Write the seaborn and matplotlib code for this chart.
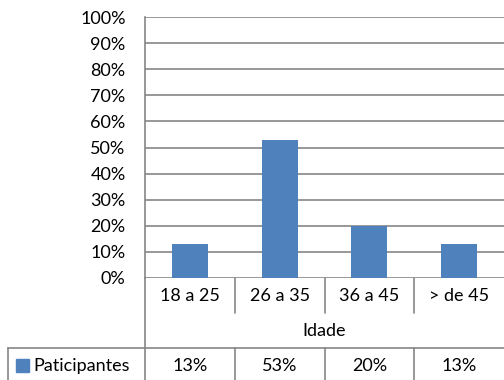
import matplotlib
matplotlib.use("Agg")
import matplotlib.pyplot as plt
import seaborn as sns
import pandas as pd
from matplotlib.lines import Line2D
from matplotlib.patches import Rectangle

categories = ["18 a 25", "26 a 35", "36 a 45", "> de 45"]
values = [13, 53, 20, 13]
value_labels = ["13%", "53%", "20%", "13%"]
series_name = "Paticipantes"
axis_title = "Idade"
yticks = list(range(0, 101, 10))

sns.set_theme(style="white")
plt.rcParams["font.family"] = ["Lato", "DejaVu Sans"]
FS = 13

W, H = 504, 380
fig = plt.figure(figsize=(W / 100, H / 100), dpi=100)

def fx(px):
    return px / W

def fy(py):
    return 1 - py / H

left, right, top, bottom = 145, 504, 17, 278
ax = fig.add_axes([fx(left), fy(bottom), fx(right) - fx(left), fy(top) - fy(bottom)])

df = pd.DataFrame({"Idade": categories, "v": values})
sns.barplot(data=df, x="Idade", y="v", color="#4F81BD", width=0.4, saturation=1,
            ax=ax, edgecolor="none")
ax.set_ylim(0, 100)
ax.set_xlim(-0.5, 3.5)
ax.set_yticks(yticks)
ax.set_yticklabels([f"{t}%" for t in yticks], fontsize=FS, color="#000000")
ax.tick_params(axis="y", length=0, pad=14)
ax.set_xticks([])
ax.set_xlabel("")
ax.set_ylabel("")
for t in yticks:
    ax.axhline(t, color="#868686", lw=1.2, zorder=0)
for s in ["top", "right", "bottom"]:
    ax.spines[s].set_visible(False)
ax.spines["left"].set_color("#868686")
ax.spines["left"].set_linewidth(1.2)

gc = "#868686"
def hline(x0, x1, y):
    fig.add_artist(Line2D([fx(x0), fx(x1)], [fy(y), fy(y)], color=gc, lw=1.2))

def vline(x, y0, y1):
    fig.add_artist(Line2D([fx(x), fx(x)], [fy(y0), fy(y1)], color=gc, lw=1.2))

# table structure
colw = (right - left) / len(categories)
vline(left, bottom, H)
for i in range(1, len(categories)):
    x = left + i * colw
    vline(x, bottom, 313)
    vline(x, 348, H)
hline(8, right, 348)
vline(8, 348, H)

# category labels
for i, c in enumerate(categories):
    fig.text(fx(left + (i + 0.5) * colw), fy(296), c, ha="center", va="center",
             fontsize=FS, color="#000000")
fig.text(fx(left + 2 * colw), fy(331), axis_title, ha="center", va="center",
         fontsize=FS, color="#000000")
for i, v in enumerate(value_labels):
    fig.text(fx(left + (i + 0.5) * colw), fy(366), v, ha="center", va="center",
             fontsize=FS, color="#000000")
# legend key + series name
fig.add_artist(Rectangle((fx(16), fy(372)), fx(13), fy(359) - fy(372), color="#4F81BD"))
fig.text(fx(33), fy(366), series_name, ha="left", va="center", fontsize=FS, color="#000000")

fig.savefig("out.png", dpi=100)
